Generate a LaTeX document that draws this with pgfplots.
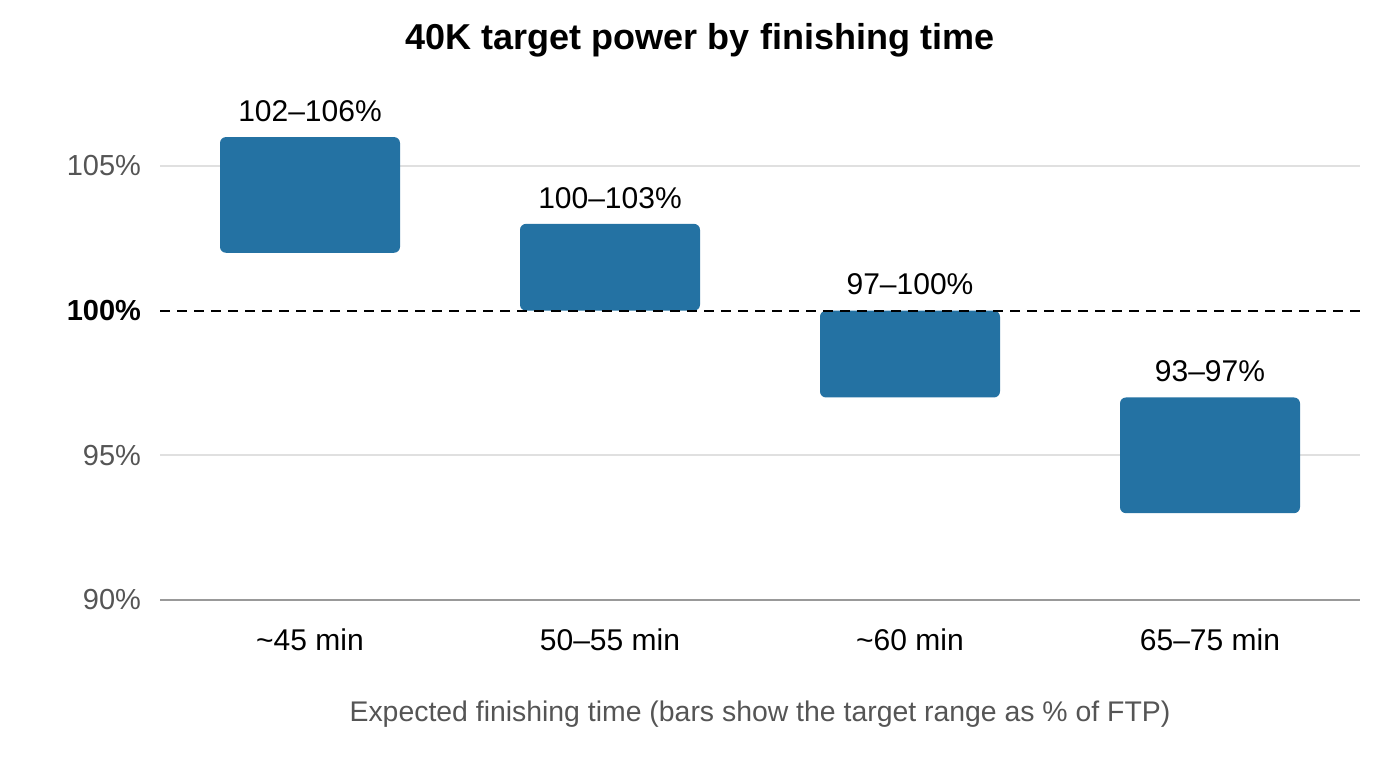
\documentclass[border=0pt]{standalone}
\usepackage{fontspec}
\setmainfont{Liberation Sans}
\usepackage{pgfplots}
\pgfplotsset{compat=1.18}
\definecolor{barblue}{RGB}{36,114,163}
\definecolor{tickgrey}{RGB}{85,85,85}
\definecolor{gridgrey}{RGB}{224,224,224}
\definecolor{axisgrey}{RGB}{153,153,153}
\begin{document}
\begin{tikzpicture}
\path[use as bounding box] (-80bp,-80bp) rectangle (620bp,300bp);
\begin{axis}[
  at={(0,0)}, anchor=south west,
  scale only axis, width=600bp, height=260.4bp,
  xmin=-0.5, xmax=3.5, ymin=90, ymax=108,
  ybar stacked, bar width=0.6,
  axis line style={draw=none},
  major tick length=0pt,
  xtick={0,1,2,3},
  xticklabels={\textasciitilde 45 min,50–55 min,\textasciitilde 60 min,65–75 min},
  xticklabel style={font=\fontsize{15bp}{18bp}\selectfont, black, yshift=-11bp},
  ytick={95,105},
  yticklabels={95\%,105\%},
  extra y ticks={90,100},
  extra y tick labels={90\%,\textcolor{black}{\textbf{100\%}}},
  extra y tick style={grid=none},
  yticklabel style={font=\fontsize{14.5bp}{17bp}\selectfont, text=tickgrey, xshift=-6bp},
  ymajorgrids,
  grid style={gridgrey, line width=1bp},
  /pgf/number format/assume math mode=true,
  clip=false,
]
\draw[axisgrey, line width=1bp] (axis cs:-0.5,90) -- (axis cs:3.5,90);
\draw[black, line width=1bp, dash pattern=on 5bp off 3.5bp] (axis cs:-0.5,100) -- (axis cs:3.5,100);
\addplot[draw=none, fill=none] coordinates {(0,102) (1,100) (2,97) (3,93)};
\addplot[fill=barblue, draw=none, rounded corners=3bp]
  coordinates {(0,4) (1,3) (2,3) (3,4)};
\end{axis}
\begin{axis}[
  at={(0,0)}, anchor=south west,
  scale only axis, width=600bp, height=260.4bp,
  xmin=-0.5, xmax=3.5, ymin=90, ymax=108,
  hide axis, clip=false,
]
\addplot[only marks, mark=none,
  point meta=explicit symbolic,
  nodes near coords,
  nodes near coords style={font=\fontsize{15bp}{18bp}\selectfont, black, inner sep=0pt, anchor=south, yshift=7.5bp}]
  coordinates {(0,106) [102–106\%] (1,103) [100–103\%] (2,100) [97–100\%] (3,97) [93–97\%]};
\end{axis}
\node[font=\fontsize{18bp}{22bp}\selectfont\bfseries] at (270bp,280bp) {40K target power by finishing time};
\node[font=\fontsize{14.2bp}{17bp}\selectfont, text=tickgrey] at (300bp,-57bp) {Expected finishing time (bars show the target range as \% of FTP)};
\end{tikzpicture}
\end{document}
